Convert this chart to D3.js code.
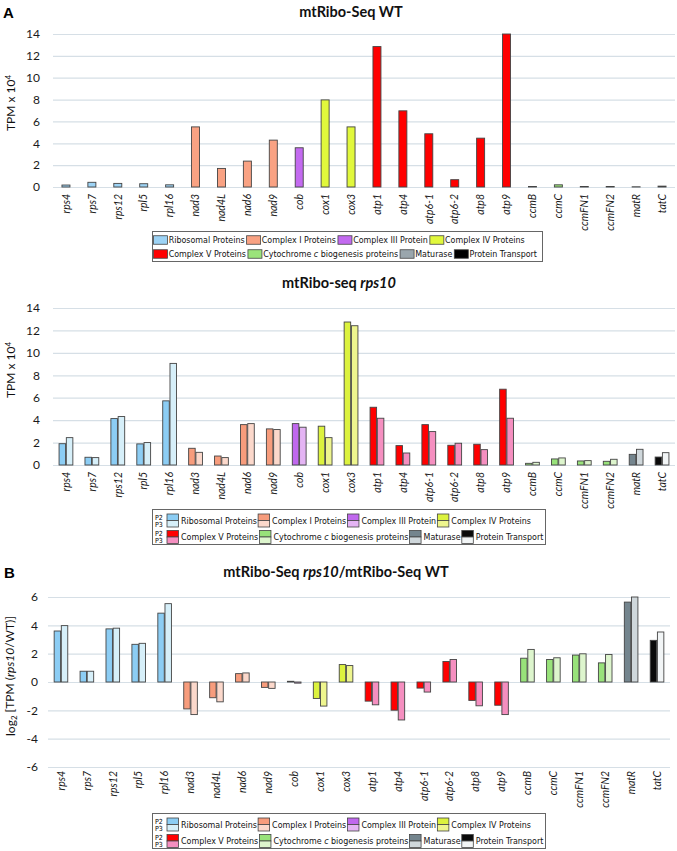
<!DOCTYPE html>
<html>
<head>
<meta charset="utf-8">
<script src="https://cdn.jsdelivr.net/npm/d3@7"></script>
<style>
	body { margin: 0; background: #fff; }
	svg { display: block; font-family: Lato, sans-serif; }
</style>
</head>
<body>
<svg id="chart" width="677" height="851"></svg>
<script>

// values
var GENES = ['rps4', 'rps7', 'rps12', 'rpl5', 'rpl16', 'nad3', 'nad4L', 'nad6', 'nad9', 'cob', 'cox1', 'cox3',
	'atp1', 'atp4', 'atp6-1', 'atp6-2', 'atp8', 'atp9', 'ccmB', 'ccmC', 'ccmFN1', 'ccmFN2', 'matR', 'tatC'];
var GENE_GROUP = [0,0,0,0,0, 1,1,1,1, 2, 3,3, 4,4,4,4,4,4, 5,5,5,5, 6, 7];
var GROUPS = ['Ribosomal Proteins', 'Complex I Proteins', 'Complex III Protein', 'Complex IV Proteins',
	'Complex V Proteins', 'Cytochrome c biogenesis proteins', 'Maturase', 'Protein Transport'];

var WT_TPM  = [0.18, 0.43, 0.33, 0.3, 0.2, 5.5, 1.7, 2.37, 4.29, 3.59, 7.97, 5.5,
	12.85, 6.97, 4.87, 0.67, 4.47, 14.0, 0.05, 0.2, 0.05, 0.05, 0.02, 0.08];
var P2_TPM  = [1.9, 0.69, 4.14, 1.88, 5.72, 1.49, 0.8, 3.6, 3.22, 3.69, 3.46, 12.75,
	5.15, 1.73, 3.6, 1.76, 1.85, 6.76, 0.15, 0.54, 0.36, 0.33, 0.95, 0.71];
var P3_TPM  = [2.44, 0.66, 4.32, 2.0, 9.06, 1.13, 0.66, 3.69, 3.16, 3.37, 2.44, 12.42,
	4.17, 1.07, 2.98, 1.94, 1.37, 4.17, 0.24, 0.63, 0.39, 0.51, 1.4, 1.1];
var P2_LOG2 = [3.6, 0.76, 3.75, 2.66, 4.86, -1.9, -1.11, 0.59, -0.38, 0.05, -1.16, 1.23,
	-1.35, -1.99, -0.43, 1.45, -1.3, -1.64, 1.68, 1.59, 1.9, 1.35, 5.64, 2.94];
var P3_LOG2 = [3.98, 0.76, 3.8, 2.73, 5.53, -2.3, -1.4, 0.64, -0.45, -0.08, -1.7, 1.16,
	-1.61, -2.68, -0.71, 1.59, -1.68, -2.3, 2.3, 1.71, 1.99, 1.94, 6.0, 3.53];
var TPM_TICKS = [0, 2, 4, 6, 8, 10, 12, 14];
var LOG2_TICKS = [-6, -4, -2, 0, 2, 4, 6];

// colours
var WT_COLOR = ['#9dd3f5', '#f9a283', '#c36af0', '#e1f83c', '#ff0000', '#9be37b', '#9aa6ad', '#000000'];
var P2_COLOR = ['#8ccdf4', '#f79c7c', '#c068ee', '#dcf23e', '#ff0000', '#98e27a', '#74858e', '#0a0a0a'];
var P3_COLOR = ['#d6eff9', '#fbd8cb', '#e4b4f4', '#eef58e', '#f58fc0', '#ddf5cd', '#cfd7db', '#f2f5f6'];
var BAR_STROKE = '#444', GRID = '#d6dfe6';
var LEG_FONT = 'DejaVu Sans Condensed, DejaVu Sans, sans-serif';

var svg = d3.select('#chart');

// legend font size so that "Ribosomal Proteins" is about 76px wide, as in the figure
var probe = svg.append('text').text(GROUPS[0]).style('font-size', '10px').style('font-family', LEG_FONT);
var legSize = 10 * 76 / probe.node().getComputedTextLength();
probe.remove();


// one bar chart panel
function drawPanel(o) {
	var g = svg.append('g');
	var x = d3.scaleBand().domain(GENES).range(o.xRange);
	var y = d3.scaleLinear().domain(o.domain).range(o.yRange).clamp(true);

	var yAxis = d3.axisLeft(y)
		.tickValues(o.ticks)
		.tickSize(-(o.xRange[1] - o.xRange[0]))
		.tickPadding(o.tickPad)
		.tickFormat(function(d) { return String(d); });
	var ya = g.append('g')
		.attr('transform', 'translate(' + o.xRange[0] + ',0)')
		.call(yAxis);
	ya.select('.domain').remove();
	ya.selectAll('line').attr('stroke', GRID).attr('stroke-width', 1.2);
	ya.selectAll('text')
		.attr('fill', '#1a1a1a')
		.style('font-size', '12px')
		.style('font-family', 'Lato, sans-serif');

	var xAxis = d3.axisBottom(x).tickSize(0);
	var xa = g.append('g')
		.attr('transform', 'translate(0,' + o.labelY + ')')
		.call(xAxis);
	xa.select('.domain').remove();
	xa.selectAll('text')
		.attr('transform', 'rotate(-90)')
		.attr('x', 0)
		.attr('y', 0)
		.attr('dy', '0.36em')
		.attr('text-anchor', 'end')
		.attr('fill', '#1a1a1a')
		.style('font-size', '10.5px')
		.style('font-style', 'italic')
		.style('font-family', 'Lato, sans-serif');

	var series = o.series;
	var sub = d3.scaleBand()
		.domain(d3.range(series.length))
		.range([x.bandwidth()/2 - o.groupW/2, x.bandwidth()/2 + o.groupW/2])
		.paddingInner(series.length > 1 ? 0.1 : 0);

	series.forEach(function(s, si) {
		g.append('g').selectAll('rect')
			.data(GENES)
			.enter()
			.append('rect')
			.attr('x', function(d) { return x(d) + sub(si); })
			.attr('width', sub.bandwidth())
			.attr('y', function(d, i) { return y(Math.max(0, s.values[i])); })
			.attr('height', function(d, i) { return Math.abs(y(s.values[i]) - y(0)); })
			.attr('fill', function(d, i) { return s.colors[GENE_GROUP[i]]; })
			.attr('stroke', BAR_STROKE)
			.attr('stroke-width', 0.9);
	});

	// title
	var t = g.append('text')
		.attr('x', o.titleX)
		.attr('y', o.titleY)
		.attr('text-anchor', 'middle')
		.style('font-size', '14.5px')
		.style('font-weight', 'bold')
		.attr('fill', '#111');
	o.title.forEach(function(p) {
		t.append('tspan').text(p[0]).style('font-style', p[1] ? 'italic' : 'normal');
	});

	// y label
	var yl = g.append('text')
		.attr('transform', 'translate(' + o.ylabX + ',' + o.ylabY + ') rotate(-90)')
		.attr('text-anchor', 'middle')
		.style('font-size', '12px')
		.attr('fill', '#111');
	o.ylabel.forEach(function(p) {
		var ts = yl.append('tspan').text(p[0]);
		if( p[1] == 'i' ) { ts.style('font-style', 'italic'); }
		else if( p[1] == 'sup' ) { ts.attr('dy', '-0.45em').style('font-size', '8px'); }
		else if( p[1] == 'sub' ) { ts.attr('dy', '0.3em').style('font-size', '8px'); }
		else if( p[1] == 'back' ) { ts.attr('dy', '-0.3em'); }
	});
	return g;
}


// legend boxes
function drawLegend(top, paired) {
	var L = svg.append('g');
	var boxH = paired ? 35 : 30;
	L.append('rect')
		.attr('x', 152.5).attr('y', top + 0.5)
		.attr('width', paired ? 393 : 390).attr('height', boxH)
		.attr('fill', '#fff')
		.attr('stroke', '#666')
		.attr('stroke-width', 1);

	[GROUPS.slice(0, 4), GROUPS.slice(4)].forEach(function(row, r) {
		var cy = paired ? top + 11.5 + r*16.5 : top + 9 + r*14;
		var cx = paired ? 167 : 153.5;
		var sw = paired ? 11.5 : 14, sh = paired ? 13 : 8.5;
		if( paired ) {
			L.append('text').attr('x', 155).attr('y', cy - 0.8).text('P2')
				.style('font-size', '7px').style('font-family', LEG_FONT);
			L.append('text').attr('x', 155).attr('y', cy + 6.2).text('P3')
				.style('font-size', '7px').style('font-family', LEG_FONT);
		}
		row.forEach(function(name, k) {
			var gi = r*4 + k;
			if( paired ) {
				L.append('rect').attr('x', cx).attr('y', cy - sh/2).attr('width', sw).attr('height', sh/2)
					.attr('fill', P2_COLOR[gi]).attr('stroke', '#444').attr('stroke-width', 0.8);
				L.append('rect').attr('x', cx).attr('y', cy).attr('width', sw).attr('height', sh/2)
					.attr('fill', P3_COLOR[gi]).attr('stroke', '#444').attr('stroke-width', 0.8);
			}
			else {
				L.append('rect').attr('x', cx).attr('y', cy - sh/2).attr('width', sw).attr('height', sh)
					.attr('fill', WT_COLOR[gi]).attr('stroke', '#444').attr('stroke-width', 0.8);
			}
			var gap = paired ? 2.5 : 1.2;
			var tx = L.append('text')
				.attr('x', cx + sw + gap)
				.attr('y', cy + 3.2)
				.attr('fill', '#111')
				.style('font-size', legSize + 'px')
				.style('font-family', LEG_FONT);
			var parts = name.split(' c ');
			if( parts.length == 2 ) {
				tx.append('tspan').text(parts[0] + ' ');
				tx.append('tspan').text('c').style('font-style', 'italic');
				tx.append('tspan').text(' ' + parts[1]);
			}
			else { tx.text(name); }
			cx = cx + sw + gap + tx.node().getComputedTextLength() + (paired ? 1.2 : 2);
		});
	});
}


// panel A, WT
drawPanel({
	xRange: [53, 675], yRange: [187, 34], domain: [0, 14], ticks: TPM_TICKS, tickPad: 13,
	labelY: 194, groupW: 8,
	series: [{ values: WT_TPM, colors: WT_COLOR }],
	title: [['mtRibo-Seq WT', false]], titleX: 351, titleY: 17,
	ylabel: [['TPM x 10'], ['4', 'sup']], ylabX: 15, ylabY: 103
});
drawLegend(231, false);

// rps10 mutant
drawPanel({
	xRange: [53, 675], yRange: [465, 308], domain: [0, 14], ticks: TPM_TICKS, tickPad: 13,
	labelY: 472, groupW: 13.8,
	series: [{ values: P2_TPM, colors: P2_COLOR }, { values: P3_TPM, colors: P3_COLOR }],
	title: [['mtRibo-seq ', false], ['rps10', true]], titleX: 339, titleY: 288,
	ylabel: [['TPM x 10'], ['4', 'sup']], ylabX: 15, ylabY: 370
});
drawLegend(509, true);

// panel B, log2 ratio
drawPanel({
	xRange: [48, 670], yRange: [767, 597], domain: [-6, 6], ticks: LOG2_TICKS, tickPad: 10,
	labelY: 771, groupW: 13.6,
	series: [{ values: P2_LOG2, colors: P2_COLOR }, { values: P3_LOG2, colors: P3_COLOR }],
	title: [['mtRibo-Seq ', false], ['rps10', true], ['/mtRibo-Seq WT', false]], titleX: 336, titleY: 577,
	ylabel: [['log'], ['2', 'sub'], [' [TPM (', 'back'], ['rps10', 'i'], ['/WT)]']], ylabX: 15, ylabY: 676
});
drawLegend(813, true);

// panel letters
svg.append('text').attr('x', 3).attr('y', 18).text('A')
	.style('font-size', '15px').style('font-weight', 'bold').style('font-family', 'Liberation Sans, Arial, sans-serif');
svg.append('text').attr('x', 4).attr('y', 578).text('B')
	.style('font-size', '15px').style('font-weight', 'bold').style('font-family', 'Liberation Sans, Arial, sans-serif');

</script>
</body>
</html>
